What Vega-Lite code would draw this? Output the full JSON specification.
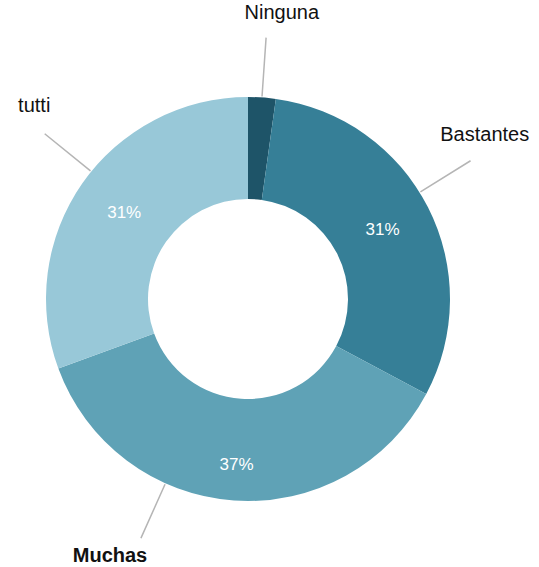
{
  "$schema": "https://vega.github.io/schema/vega-lite/v6.json",
  "width": 496,
  "height": 536,
  "autosize": "none",
  "padding": {"left": 0, "top": 31, "right": 43, "bottom": 0},
  "background": "white",
  "config": {"view": {"stroke": null}, "font": "Liberation Sans"},
  "data": {"values": [
    {"cat": "Ninguna", "value": 0.022},
    {"cat": "Bastantes", "value": 0.306},
    {"cat": "Muchas", "value": 0.366},
    {"cat": "tutti", "value": 0.306}
  ]},
  "transform": [
    {"stack": "value", "groupby": [], "as": ["t0", "t1"]},
    {"calculate": "datum.t0 + (datum.t1 - datum.t0) * (datum.cat === 'Bastantes' ? 0.456 : datum.cat === 'Muchas' ? 0.653 : datum.cat === 'tutti' ? 0.538 : 0.5)", "as": "lineT"},
    {"calculate": "datum.t0 + (datum.t1 - datum.t0) * (datum.cat === 'Bastantes' ? 0.43 : datum.cat === 'Muchas' ? 0.684 : datum.cat === 'tutti' ? 0.565 : 0.85)", "as": "labT"},
    {"calculate": "(datum.t0 + datum.t1) / 2", "as": "midT"}
  ],
  "layer": [
    {
      "mark": {"type": "arc", "outerRadius": 202, "innerRadius": 100},
      "encoding": {
        "theta": {"field": "t0", "type": "quantitative", "scale": {"domain": [0, 1], "range": [0, 6.283185307179586]}},
        "theta2": {"field": "t1"},
        "color": {"field": "cat", "type": "nominal", "legend": null,
          "scale": {"domain": ["Ninguna", "Bastantes", "Muchas", "tutti"], "range": ["#1e5468", "#367f97", "#5fa2b6", "#98c8d8"]}}
      }
    },
    {
      "mark": {"type": "arc", "outerRadius": 262, "innerRadius": 203, "fill": null, "stroke": "#b5b5b5", "strokeWidth": 1.5},
      "encoding": {
        "theta": {"field": "lineT", "type": "quantitative"},
        "theta2": {"field": "lineT"}
      }
    },
    {
      "transform": [{"filter": "datum.value > 0.05 && datum.cat !== 'Muchas'"}],
      "mark": {"type": "text", "radius": 151, "fontSize": 17, "color": "white", "align": "center", "baseline": "middle"},
      "encoding": {
        "theta": {"field": "midT", "type": "quantitative"},
        "text": {"field": "value", "type": "quantitative", "format": ".0%"}
      }
    },
    {
      "transform": [{"filter": "datum.cat === 'Muchas'"}],
      "mark": {"type": "text", "radius": 166, "fontSize": 17, "color": "white", "align": "center", "baseline": "middle"},
      "encoding": {
        "theta": {"field": "midT", "type": "quantitative"},
        "text": {"field": "value", "type": "quantitative", "format": ".0%"}
      }
    },
    {
      "transform": [{"filter": "datum.cat !== 'Muchas'"}],
      "mark": {"type": "text", "radius": 288, "fontSize": 20, "color": "#111111", "align": "center", "baseline": "middle"},
      "encoding": {
        "theta": {"field": "labT", "type": "quantitative"},
        "text": {"field": "cat", "type": "nominal"}
      }
    },
    {
      "transform": [{"filter": "datum.cat === 'Muchas'"}],
      "mark": {"type": "text", "radius": 292, "fontSize": 20, "fontWeight": "bold", "color": "#111111", "align": "center", "baseline": "middle"},
      "encoding": {
        "theta": {"field": "labT", "type": "quantitative"},
        "text": {"field": "cat", "type": "nominal"}
      }
    }
  ]
}
